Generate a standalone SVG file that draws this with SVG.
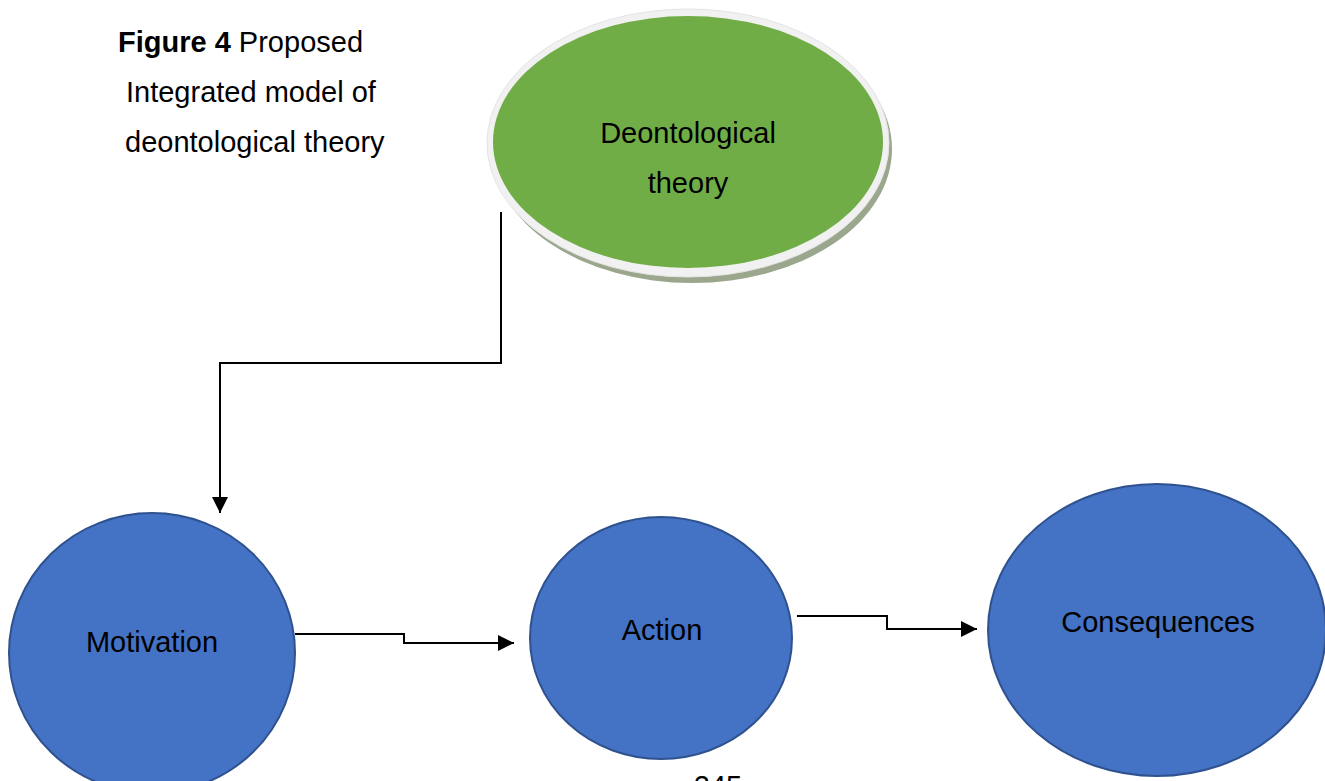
<svg xmlns="http://www.w3.org/2000/svg" width="1325" height="781" viewBox="0 0 1325 781">
  <defs>
    <style>
      text { font-family: "Liberation Sans", Arial, sans-serif; fill: #000; }
      .lbl { font-size: 29px; text-anchor: middle; }
      .cap { font-size: 29px; }
      .blue { fill: #4472C4; stroke: #2F528F; stroke-width: 2; }
      .conn { fill: none; stroke: #000; stroke-width: 2; }
    </style>
    <marker id="arrow" viewBox="0 0 10 10" refX="10" refY="5" markerWidth="8" markerHeight="8" orient="auto" markerUnits="strokeWidth">
      <path d="M0,0 L10,5 L0,10 z" fill="#000"/>
    </marker>
  </defs>
  <rect width="1325" height="781" fill="#fff"/>

  <g id="caption">
    <text class="cap" x="118" y="52"><tspan font-weight="bold">Figure 4</tspan> Proposed</text>
    <text class="cap" x="126" y="102">Integrated model of</text>
    <text class="cap" x="125" y="152">deontological theory</text>
  </g>

  <g id="connectors">
    <polyline class="conn" points="501,212 501,363 220,363 220,513" marker-end="url(#arrow)"/>
    <polyline class="conn" points="295,634 404,634 404,643 514,643" marker-end="url(#arrow)"/>
    <polyline class="conn" points="797,616 887,616 887,629 977,629" marker-end="url(#arrow)"/>
  </g>

  <g id="node-deontological">
    <ellipse cx="692" cy="149" rx="200" ry="134" fill="#9aa78c"/>
    <ellipse cx="688" cy="143" rx="201" ry="134" fill="#f1f1f1" stroke="#e4e4e4" stroke-width="1"/>
    <ellipse cx="688" cy="142" rx="195" ry="126" fill="#70AD47"/>
    <text class="lbl" x="688" y="143">Deontological</text>
    <text class="lbl" x="688" y="193">theory</text>
  </g>

  <g id="node-motivation">
    <ellipse class="blue" cx="152" cy="653" rx="143" ry="140"/>
    <text class="lbl" x="152" y="652">Motivation</text>
  </g>

  <g id="node-action">
    <ellipse class="blue" cx="661" cy="638" rx="131" ry="121"/>
    <text class="lbl" x="662" y="640">Action</text>
  </g>

  <g id="node-consequences">
    <ellipse class="blue" cx="1157" cy="630" rx="169" ry="146"/>
    <text class="lbl" x="1158" y="632">Consequences</text>
  </g>

  <text class="lbl" x="718" y="796">245</text>
</svg>
